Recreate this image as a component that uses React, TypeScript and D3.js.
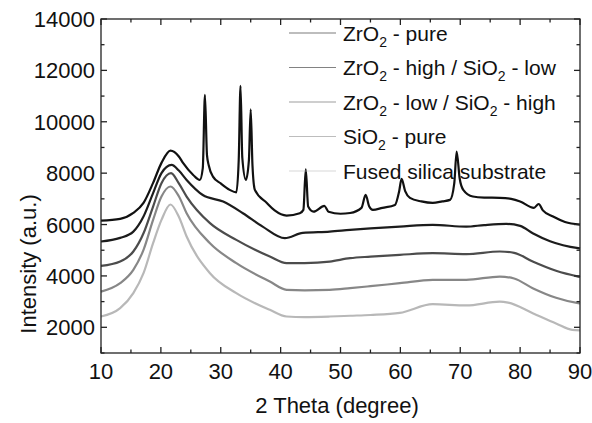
import React, { useEffect, useRef } from 'react'
import * as d3 from 'd3'

// 2 theta positions (degree) and intensities (a.u.)
const zrPureX = [10, 13.2, 15.4, 17.1, 18.7, 20.1, 21.6, 23, 23.7, 25.4, 26.5, 27.0, 27.36, 27.7, 28.0, 28.7, 30, 31.5, 32.6, 33.0, 33.3, 33.6, 34.2, 34.7, 35.0, 35.3, 35.7, 37.7, 39, 41, 43.2, 43.8, 44.2, 44.6, 45.5, 47.3, 48, 50, 51.6, 53.5, 54.2, 54.8, 55.4, 57, 59.1, 59.8, 60.2, 60.8, 61.6, 63.5, 65.4, 67, 68.3, 69.0, 69.4, 69.9, 70.5, 72.1, 74, 76.6, 78.5, 80, 82.3, 83.1, 83.8, 85.5, 87.5, 90]
const zrPureY = [6150, 6220, 6450, 6840, 7620, 8400, 8880, 8650, 8400, 7930, 7737, 8200, 11044, 8700, 8300, 7865, 7600, 7350, 7250, 8500, 11394, 8600, 7737, 8500, 10485, 8300, 7350, 6840, 6550, 6350, 6440, 6570, 8150, 6700, 6500, 6725, 6500, 6420, 6450, 6650, 7154, 6700, 6570, 6650, 6765, 7300, 7776, 7300, 7040, 6900, 6842, 6900, 6960, 7600, 8840, 7800, 7350, 7090, 7050, 7040, 7000, 6900, 6650, 6800, 6550, 6310, 6100, 6000]

const zrHighX = [10, 13.2, 15.4, 17.1, 18.7, 20.1, 21.8, 23, 24.3, 27, 30.4, 33.7, 37, 40.7, 43.7, 48.2, 51.6, 55, 59.9, 65.4, 71, 74, 77.7, 80, 82.1, 85, 89.7, 90]
const zrHighY = [5340, 5480, 5725, 6310, 7220, 8000, 8320, 8100, 7737, 7150, 6893, 6440, 5920, 5470, 5675, 5725, 5792, 5850, 5920, 5987, 5920, 5980, 6025, 5950, 5660, 5350, 5080, 5070]

const zrLowX = [10, 13.2, 15.4, 17.1, 18.7, 20.1, 21.7, 23, 24.3, 28.2, 32.6, 38.2, 41, 44, 48.2, 51.6, 55, 59.9, 65.4, 71, 76.6, 79, 82.1, 86, 89.7, 90]
const zrLowY = [4390, 4560, 4950, 5660, 6700, 7610, 8000, 7600, 7088, 6053, 5403, 4753, 4497, 4500, 4560, 4690, 4750, 4820, 4885, 4850, 4950, 4900, 4560, 4200, 3975, 3960]

const siPureX = [10, 13.2, 15.4, 17.1, 18.7, 20.1, 21.6, 23, 24.3, 28.2, 32.6, 38.2, 41, 44, 48.2, 51.6, 55, 59.9, 65.4, 71, 76.6, 79, 82.1, 86, 89.7, 90]
const siPureY = [3390, 3718, 4235, 5015, 6180, 7090, 7480, 7100, 6440, 5274, 4497, 3780, 3458, 3440, 3458, 3523, 3600, 3718, 3847, 3850, 3975, 3900, 3523, 3150, 2940, 2930]

const fusedX = [10, 13.2, 15.4, 17.1, 18.7, 20.1, 21.6, 23, 24.3, 28.2, 32.6, 38.2, 41, 44, 48.2, 51.6, 55, 59.9, 65.4, 71, 76.6, 78, 82.1, 86, 88.7, 90]
const fusedY = [2420, 2745, 3330, 4107, 5274, 6180, 6780, 6300, 5532, 4107, 3329, 2680, 2420, 2400, 2420, 2450, 2480, 2560, 2900, 2850, 3000, 2960, 2550, 2150, 1900, 1880]

// legend labels: odd parts are subscripts
const legendLabels = [
     ['ZrO', '2', ' - pure'],
     ['ZrO', '2', ' - high / SiO', '2', ' - low'],
     ['ZrO', '2', ' - low / SiO', '2', ' - high'],
     ['SiO', '2', ' - pure'],
     ['Fused silica substrate'],
]
const seriesColors = ['#111111', '#1c1c1c', '#4c4c4c', '#878787', '#b8b8b8']

const xTicks = [10, 20, 30, 40, 50, 60, 70, 80, 90]
const yTicks = [2000, 4000, 6000, 8000, 10000, 12000, 14000]

const App = () => {
     const svgRef = useRef(null)

     useEffect(() => {
          const width = 592
          const height = 423
          const plot = { left: 101, right: 580, top: 19, bottom: 353 }
          const font = '"Liberation Sans", Arial, sans-serif'

          const svg = d3.select(svgRef.current)
          svg.selectAll('*').remove()
          svg.attr('width', width).attr('height', height)

          const x = d3.scaleLinear().domain([10, 90]).range([plot.left, plot.right])
          const y = d3.scaleLinear().domain([1000, 14000]).range([plot.bottom, plot.top])

          const series = [
               [zrPureX, zrPureY],
               [zrHighX, zrHighY],
               [zrLowX, zrLowY],
               [siPureX, siPureY],
               [fusedX, fusedY],
          ]

          const line = d3
               .line<number[]>()
               .x((d) => d[0])
               .y((d) => d[1])
               .curve(d3.curveMonotoneX)

          // draw from the lightest (bottom) to the top curve
          series
               .map((s, i) => ({ s, i }))
               .reverse()
               .forEach(({ s, i }) => {
                    const pts = s[0].map((v, k) => [x(v), y(s[1][k])])
                    svg.append('path')
                         .attr('d', line(pts))
                         .attr('fill', 'none')
                         .attr('stroke', seriesColors[i])
                         .attr('stroke-width', 2.2)
                         .attr('stroke-linejoin', 'round')
               })

          // frame
          svg.append('rect')
               .attr('x', plot.left)
               .attr('y', plot.top)
               .attr('width', plot.right - plot.left)
               .attr('height', plot.bottom - plot.top)
               .attr('fill', 'none')
               .attr('stroke', '#222')
               .attr('stroke-width', 1.3)

          const tickColor = '#222'
          // x ticks (inward, bottom and top)
          d3.range(10, 90.1, 5).forEach((v) => {
               const len = v % 10 === 0 ? 6 : 3.5
               svg.append('line')
                    .attr('x1', x(v)).attr('x2', x(v))
                    .attr('y1', plot.bottom).attr('y2', plot.bottom - len)
                    .attr('stroke', tickColor).attr('stroke-width', 1.3)
               svg.append('line')
                    .attr('x1', x(v)).attr('x2', x(v))
                    .attr('y1', plot.top).attr('y2', plot.top + len)
                    .attr('stroke', tickColor).attr('stroke-width', 1.3)
          })
          // y ticks (inward, left and right)
          d3.range(1000, 14001, 1000).forEach((v) => {
               const len = v % 2000 === 0 ? 6 : 3.5
               svg.append('line')
                    .attr('x1', plot.left).attr('x2', plot.left + len)
                    .attr('y1', y(v)).attr('y2', y(v))
                    .attr('stroke', tickColor).attr('stroke-width', 1.3)
               svg.append('line')
                    .attr('x1', plot.right).attr('x2', plot.right - len)
                    .attr('y1', y(v)).attr('y2', y(v))
                    .attr('stroke', tickColor).attr('stroke-width', 1.3)
          })

          svg.append('g')
               .selectAll('text')
               .data(xTicks)
               .enter()
               .append('text')
               .attr('x', (d) => x(d))
               .attr('y', 379)
               .attr('text-anchor', 'middle')
               .style('font-family', font)
               .style('font-size', '22px')
               .style('fill', '#111')
               .text((d) => String(d))

          svg.append('g')
               .selectAll('text')
               .data(yTicks)
               .enter()
               .append('text')
               .attr('x', 95)
               .attr('y', (d) => y(d) + 8)
               .attr('text-anchor', 'end')
               .style('font-family', font)
               .style('font-size', '22px')
               .style('fill', '#111')
               .text((d) => String(d))

          svg.append('text')
               .attr('x', 337)
               .attr('y', 413)
               .attr('text-anchor', 'middle')
               .style('font-family', font)
               .style('font-size', '22px')
               .style('fill', '#111')
               .text('2 Theta (degree)')

          svg.append('text')
               .attr('transform', 'rotate(-90)')
               .attr('x', -264)
               .attr('y', 36)
               .attr('text-anchor', 'middle')
               .style('font-family', font)
               .style('font-size', '22px')
               .style('fill', '#111')
               .text('Intensity (a.u.)')

          // legend
          const legend = svg.append('g')
          legendLabels.forEach((parts, i) => {
               const ly = 33 + i * 34.5
               legend.append('line')
                    .attr('x1', 289).attr('x2', 336)
                    .attr('y1', ly).attr('y2', ly)
                    .attr('stroke', seriesColors[i])
                    .attr('stroke-opacity', 0.55)
                    .attr('stroke-width', 1)
               const t = legend.append('text')
                    .attr('x', 343)
                    .attr('y', ly + 7.5)
                    .style('font-family', font)
                    .style('font-size', '21px')
                    .style('fill', '#111')
               parts.forEach((p, k) => {
                    if (k % 2 === 1) {
                         t.append('tspan')
                              .attr('dy', 6)
                              .style('font-size', '14px')
                              .text(p)
                    } else {
                         t.append('tspan')
                              .attr('dy', k === 0 ? 0 : -6)
                              .text(p)
                    }
               })
          })
     }, [])

     return (
          <svg
               ref={svgRef}
               style={{ position: 'absolute', left: 0, top: 0, display: 'block', background: '#fff' }}
          ></svg>
     )
}

export default App
